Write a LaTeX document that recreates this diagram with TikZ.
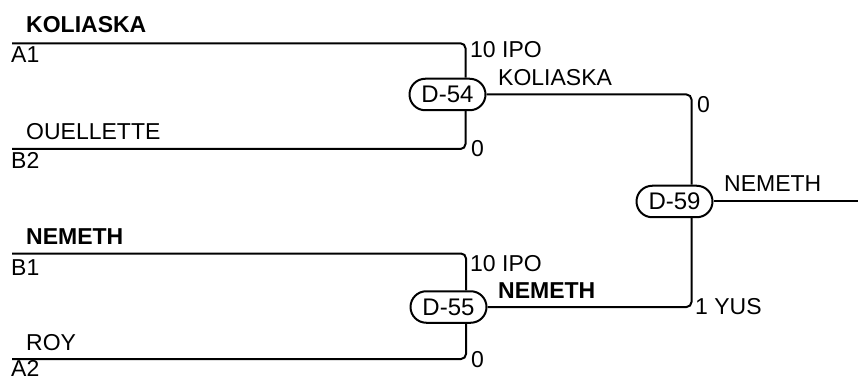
\documentclass[tikz,border=0pt]{standalone}
\usepackage{fontspec}
\setmainfont{Liberation Sans}
\usetikzlibrary{shapes.misc}
\begin{document}
\begin{tikzpicture}[x=1pt,y=-1pt,
  wire/.style={line width=2pt,rounded corners=5pt},
  game/.style={rounded rectangle,draw,line width=2pt,minimum width=76pt,minimum height=31.5pt,inner sep=0pt,font=\fontsize{24}{28}\selectfont},
  lbl/.style={anchor=base west,inner sep=0pt,font=\fontsize{23}{27}\selectfont},
  blbl/.style={lbl,font=\fontsize{23}{27}\selectfont\bfseries}]
\useasboundingbox (0,0) rectangle (858,379);
% game nodes
\node[game] (d54) at (447.5,94.5) {D-54};
\node[game] (d55) at (448.5,307) {D-55};
\node[game] (d59) at (674.5,201.5) {D-59};
% line starts
\coordinate (a1) at (12,43.3);
\coordinate (b2) at (12,149);
\coordinate (b1) at (12,253.5);
\coordinate (a2) at (12,359);
\coordinate (w) at (858,201.5);
% connectors
\draw[wire] (a1) -| ([xshift=18pt]d54.north);
\draw[wire] (b2) -| ([xshift=18pt]d54.south);
\draw[wire] (b1) -| ([xshift=17.5pt]d55.north);
\draw[wire] (a2) -| ([xshift=17.5pt]d55.south);
\draw[wire] (d54.east) -| ([xshift=17pt]d59.north);
\draw[wire] (d55.east) -| ([xshift=17pt]d59.south);
\draw[wire] (d59.east) -- (w);
% left labels
\node[blbl] (n1) at (26,33) {KOLIASKA};
\node[lbl] (s1) at (11,63) {A1};
\node[lbl] (n2) at (26,140) {OUELLETTE};
\node[lbl] (s2) at (11,168.3) {B2};
\node[blbl] (n3) at (26,244) {NEMETH};
\node[lbl] (s3) at (11,275) {B1};
\node[lbl] (n4) at (26,350) {ROY};
\node[lbl] (s4) at (11,376.5) {A2};
% right labels
\node[lbl] (r1) at (470,58) {10 IPO};
\node[lbl] (w54) at (498,86) {KOLIASKA};
\node[lbl] (r2) at (471,157) {0};
\node[lbl] (r3) at (697,113) {0};
\node[lbl] (w59) at (724,192) {NEMETH};
\node[lbl] (r4) at (470,271) {10 IPO};
\node[blbl] (w55) at (498,298) {NEMETH};
\node[lbl] (r5) at (695,314) {1 YUS};
\node[lbl] (r6) at (471,367) {0};
\end{tikzpicture}
\end{document}
